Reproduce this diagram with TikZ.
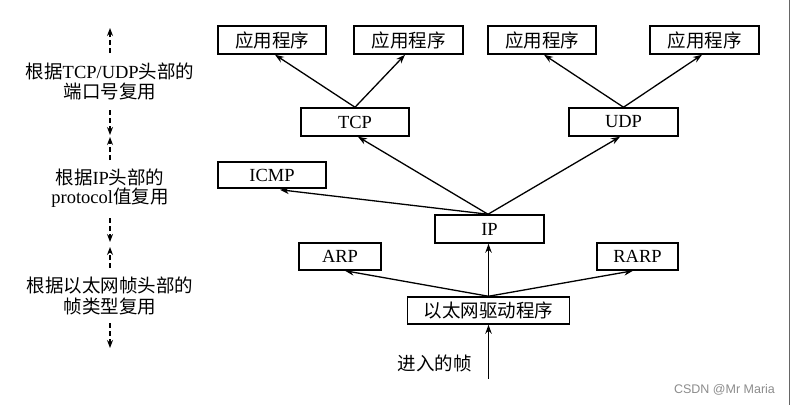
\documentclass[tikz,border=0pt]{standalone}
\usepackage{fontspec}
\setmainfont{Liberation Serif}
\newfontfamily\cjk{Noto Sans CJK SC}[Scale=1.0]
\newfontfamily\wmfont{Liberation Sans}
\usetikzlibrary{arrows.meta,calc}
\begin{document}
\begin{tikzpicture}[x=1pt,y=-1pt,
  box/.style={draw,line width=1.5pt,inner sep=0pt,minimum height=28pt,font=\fontsize{18.5}{21}\selectfont},
  arr/.style={line width=1.3pt,-{Stealth[length=9pt,width=6.5pt]}},
  darr/.style={line width=1.3pt,dash pattern=on 5pt off 3pt,-{Stealth[length=8pt,width=6pt]}},
  lbl/.style={font=\fontsize{18.5}{21}\selectfont,inner sep=0pt}]
\useasboundingbox (0,0) rectangle (791,405);
% right edge line
\coordinate (edgeT) at (789.5,0);
\coordinate (edgeB) at (789.5,405);
\draw[line width=1pt,black!60] (edgeT) -- (edgeB);

% boxes
\node[box,minimum width=108pt] (app1) at (272,40) {\cjk 应用程序};
\node[box,minimum width=109pt] (app2) at (408.5,40) {\cjk 应用程序};
\node[box,minimum width=108pt] (app3) at (542,40) {\cjk 应用程序};
\node[box,minimum width=109pt] (app4) at (704.5,40) {\cjk 应用程序};
\node[box,minimum width=108pt] (tcp) at (355,122) {TCP};
\node[box,minimum width=109pt] (udp) at (623.5,122) {UDP};
\node[box,minimum width=108pt,minimum height=26pt] (icmp) at (272,175) {ICMP};
\node[box,minimum width=109pt] (ip) at (489.5,229) {IP};
\node[box,minimum width=82pt,minimum height=27pt] (arp) at (340,256.5) {ARP};
\node[box,minimum width=81pt,minimum height=27pt] (rarp) at (637.5,256.5) {RARP};
\node[box,minimum width=162pt,minimum height=27pt] (drv) at (488.5,310.5) {\cjk 以太网驱动程序};

% arrows
\draw[arr] (tcp.north) -- ($(app1.south)+(3,0)$);
\draw[arr] (tcp.north) -- ($(app2.south)+(-3.5,0)$);
\draw[arr] (udp.north) -- ($(app3.south)+(2,0)$);
\draw[arr] (udp.north) -- ($(app4.south)+(-2.5,0)$);
\coordinate (iptop) at ($(ip.north)+(-1.5,0)$);
\draw[arr] (iptop) -- ($(tcp.south)+(3,0)$);
\draw[arr] (iptop) -- ($(udp.south)+(-3.5,0)$);
\draw[arr] (iptop) -- ($(icmp.south)+(8,1)$);
\draw[arr] (drv.north) -- (drv.north |- ip.south);
\draw[arr] (drv.north) -- ($(arp.south)+(5,0)$);
\draw[arr] (drv.north) -- ($(rarp.south)+(-4.5,0)$);
\coordinate (incoming) at ($(drv.south)+(0,54)$);
\draw[arr] (incoming) -- (drv.south);
\node[lbl,anchor=east] (inlbl) at (472,363) {\cjk 进入的帧};

% left labels
\node[lbl] (l1a) at (110,71) {{\cjk 根据}TCP/UDP{\cjk 头部的}};
\node[lbl] (l1b) at (110,92) {\cjk 端口号复用};
\node[lbl] (l2a) at (110,177) {{\cjk 根据}IP{\cjk 头部的}};
\node[lbl] (l2b) at (110,198) {protocol{\cjk 值复用}};
\node[lbl] (l3a) at (110,285) {\cjk 根据以太网帧头部的};
\node[lbl] (l3b) at (110,307) {\cjk 帧类型复用};

% dashed arrows
\coordinate (d1s) at (110,53);  \coordinate (d1e) at (110,28);
\coordinate (d2s) at (110,110); \coordinate (d2e) at (110,135);
\coordinate (d3s) at (110,160); \coordinate (d3e) at (110,137);
\coordinate (d4s) at (110,218); \coordinate (d4e) at (110,242);
\coordinate (d5s) at (110,268); \coordinate (d5e) at (110,247);
\coordinate (d6s) at (110,323); \coordinate (d6e) at (110,348);
\draw[darr] (d1s) -- (d1e);
\draw[darr] (d2s) -- (d2e);
\draw[darr] (d3s) -- (d3e);
\draw[darr] (d4s) -- (d4e);
\draw[darr] (d5s) -- (d5e);
\draw[darr] (d6s) -- (d6e);

% watermark
\node[inner sep=0pt,font=\wmfont\fontsize{12.5}{14}\selectfont,text=black!45] (wm) at (724.5,390) {CSDN @Mr Maria};
\end{tikzpicture}
\end{document}
